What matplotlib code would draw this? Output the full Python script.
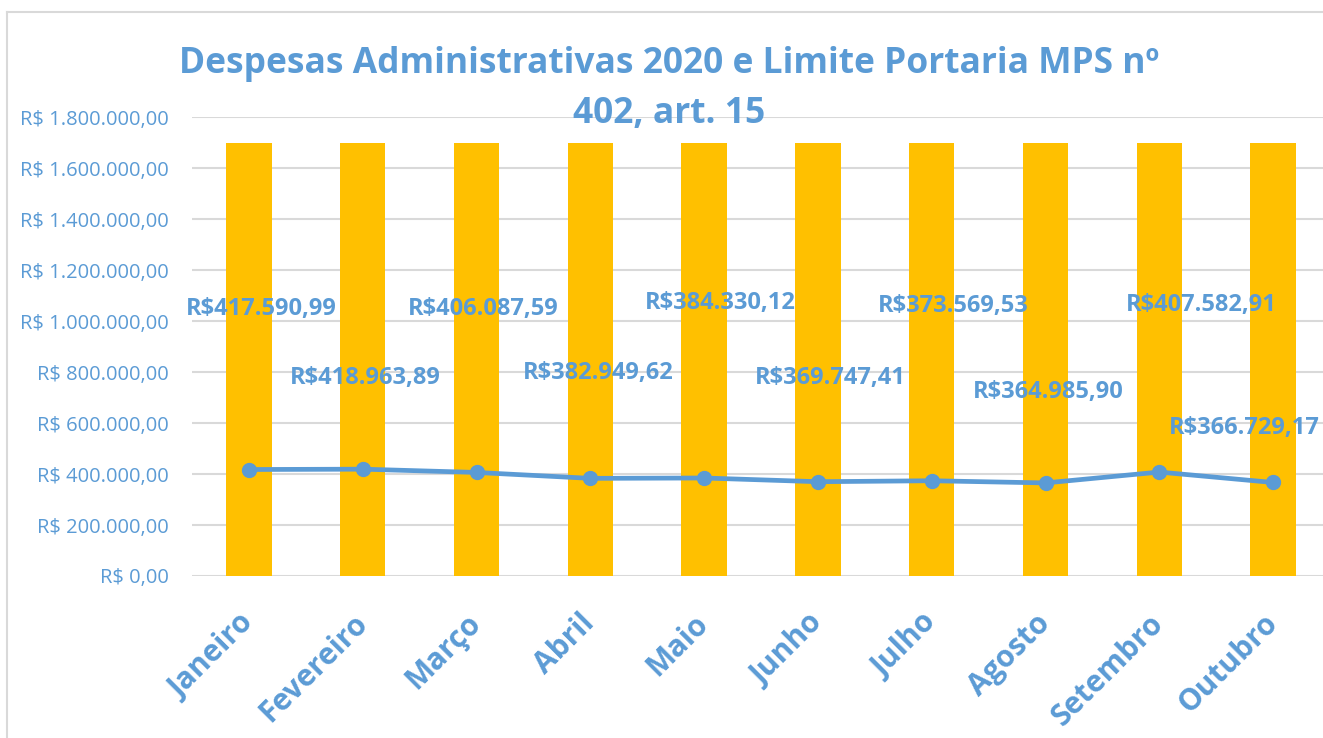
import matplotlib
matplotlib.use("Agg")
import matplotlib.pyplot as plt
from matplotlib.lines import Line2D
from matplotlib.ticker import FuncFormatter

months = ["Janeiro", "Fevereiro", "Março", "Abril", "Maio", "Junho",
          "Julho", "Agosto", "Setembro", "Outubro"]
despesas = [417590.99, 418963.89, 406087.59, 382949.62, 384330.12,
            369747.41, 373569.53, 364985.90, 407582.91, 366729.17]
limite = [1698000] * 10
label_texts = ["R$417.590,99", "R$418.963,89", "R$406.087,59", "R$382.949,62",
               "R$384.330,12", "R$369.747,41", "R$373.569,53", "R$364.985,90",
               "R$407.582,91", "R$366.729,17"]
# label placement (x offset in categories, y in data units), as in the original
label_dx = [0.11, 0.02, 0.06, 0.07, 0.14, 0.11, 0.19, 0.02, 0.37, -0.25]
label_y = [1047000, 776000, 1047000, 796000, 1070000, 776000, 1059000,
           722000, 1063000, 580000]
yticks = [0, 200000, 400000, 600000, 800000, 1000000, 1200000, 1400000,
          1600000, 1800000]
title = "Despesas Administrativas 2020 e Limite Portaria MPS nº\n402, art. 15"

BLUE = "#5B9BD5"
GOLD = "#FFC000"
GRID = "#D9D9D9"
FONT = ["Open Sans", "DejaVu Sans"]

W, H = 1323, 738
fig = plt.figure(figsize=(W / 100, H / 100), dpi=100)
ax = fig.add_axes([192 / W, 1 - 576 / H, (1330 - 192) / W, (576 - 117) / H])

x = list(range(len(months)))
ax.bar(x, limite, width=0.4, color=GOLD, zorder=2)
ax.plot(x, despesas, color=BLUE, linewidth=3.4, marker="o", markersize=10,
        zorder=3, solid_capstyle="round")

for i in x:
    ax.text(i + label_dx[i], label_y[i], label_texts[i], ha="center", va="center",
            color=BLUE, fontsize=17, fontweight="bold", family=FONT, zorder=4)

ax.set_xlim(-0.5, len(months) - 0.5)
ax.set_ylim(0, 1800000)
ax.set_yticks(yticks)
ax.yaxis.set_major_formatter(FuncFormatter(
    lambda v, p: "R$ " + f"{v:,.2f}".replace(",", "X").replace(".", ",").replace("X", ".")))
ax.grid(axis="y", color=GRID, linewidth=1.5, zorder=0)
ax.set_axisbelow(True)
for s in ax.spines.values():
    s.set_visible(False)
ax.tick_params(axis="both", length=0)
ax.tick_params(axis="y", labelcolor=BLUE, labelsize=14.5, pad=17)
for lab in ax.get_yticklabels():
    lab.set_family(FONT)

ax.set_xticks(x)
ax.set_xticklabels(months, rotation=45, ha="right", va="center",
                   rotation_mode="anchor", color=BLUE, fontsize=21.5,
                   fontweight="bold", family=FONT)
ax.tick_params(axis="x", pad=31)

fig.text(669 / W, 1 - 89 / H, title, ha="center", va="center", color=BLUE,
         fontsize=25.5, fontweight="bold", family=FONT, linespacing=1.5)

# chart-area border (cropped at right and bottom)
fig.add_artist(Line2D([7 / W, 7 / W], [0, 1 - 12 / H], color=GRID, linewidth=1.5,
                      transform=fig.transFigure))
fig.add_artist(Line2D([7 / W, 1], [1 - 12 / H, 1 - 12 / H], color=GRID, linewidth=1.5,
                      transform=fig.transFigure))

fig.savefig("out.png", dpi=100, facecolor="white")
